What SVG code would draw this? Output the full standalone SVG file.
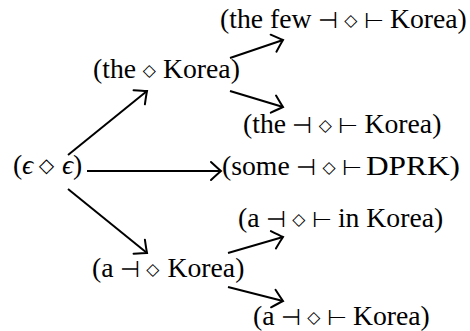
<svg xmlns="http://www.w3.org/2000/svg" width="470" height="331" viewBox="0 0 470 331">
<defs>
<style>
.t{font-family:"Liberation Serif","DejaVu Serif",serif;font-size:27.7px;fill:#000}
.i{font-style:italic}
.s{font-family:"DejaVu Sans",sans-serif;font-size:23px;font-weight:200;fill:#000;text-anchor:middle}
.m{font-family:"DejaVu Sans",sans-serif;font-size:17px;fill:#000;text-anchor:middle}
.d{font-family:"DejaVu Sans",sans-serif;font-size:20px;fill:#000;text-anchor:middle}
.c line{stroke:#000;stroke-width:2;fill:none}
</style>
<marker id="ah" markerUnits="userSpaceOnUse" markerWidth="26" markerHeight="26" refX="0" refY="0" viewBox="-13 -13 26 26" orient="auto">
<path d="M-10,-9 Q-3,-2.5 0,0 Q-3,2.5 -10,9" fill="none" stroke="#000" stroke-width="2" stroke-linecap="round"/>
</marker>
</defs>
<rect width="470" height="331" fill="#fff"/>
<g id="connectors" class="c">
<line x1="68" y1="155" x2="147" y2="91" marker-end="url(#ah)"/>
<line x1="68" y1="189" x2="147" y2="253" marker-end="url(#ah)"/>
<line x1="87" y1="171" x2="221" y2="171" marker-end="url(#ah)"/>
<line x1="230" y1="58" x2="283" y2="40" marker-end="url(#ah)"/>
<line x1="230" y1="91" x2="283" y2="107" marker-end="url(#ah)"/>
<line x1="228" y1="253" x2="283" y2="237" marker-end="url(#ah)"/>
<line x1="228" y1="287" x2="283" y2="301" marker-end="url(#ah)"/>
</g>
<g id="n0">
<text class="t" x="13" y="174">(</text>
<text class="t i" x="22" y="174">ϵ</text>
<text class="d" x="46.5" y="172">◇</text>
<text class="t i" x="62" y="174">ϵ</text>
<text class="t" x="73" y="174">)</text>
</g>
<g id="n1">
<text class="t" x="220" y="28">(the few</text>
<text class="s" x="327.7" y="28">⊣</text>
<text class="m" x="350.7" y="26">◇</text>
<text class="s" x="373.8" y="28">⊢</text>
<text class="t" x="389.9" y="28">Korea)</text>
</g>
<g id="n2">
<text class="t" x="93" y="78">(the</text>
<text class="m" x="149.2" y="76">◇</text>
<text class="t" x="163" y="78">Korea)</text>
</g>
<g id="n3">
<text class="t" x="243" y="133">(the</text>
<text class="s" x="302.3" y="133">⊣</text>
<text class="m" x="325.3" y="131">◇</text>
<text class="s" x="348.4" y="133">⊢</text>
<text class="t" x="364.5" y="133">Korea)</text>
</g>
<g id="n4">
<text class="t" x="222" y="175">(some</text>
<text class="s" x="306" y="175">⊣</text>
<text class="m" x="329" y="173">◇</text>
<text class="s" x="352" y="175">⊢</text>
<text class="t" x="366" y="175" textLength="94" lengthAdjust="spacingAndGlyphs">DPRK)</text>
</g>
<g id="n5">
<text class="t" x="238" y="227">(a</text>
<text class="s" x="275.7" y="227">⊣</text>
<text class="m" x="298.7" y="225">◇</text>
<text class="s" x="321.8" y="227">⊢</text>
<text class="t" x="337.9" y="227">in Korea)</text>
</g>
<g id="n6">
<text class="t" x="92" y="277">(a</text>
<text class="s" x="129.7" y="277">⊣</text>
<text class="m" x="152.7" y="275">◇</text>
<text class="t" x="167.5" y="277">Korea)</text>
</g>
<g id="n7">
<text class="t" x="253" y="325">(a</text>
<text class="s" x="290.7" y="325">⊣</text>
<text class="m" x="313.7" y="323">◇</text>
<text class="s" x="336.8" y="325">⊢</text>
<text class="t" x="352.9" y="325">Korea)</text>
</g>
</svg>
